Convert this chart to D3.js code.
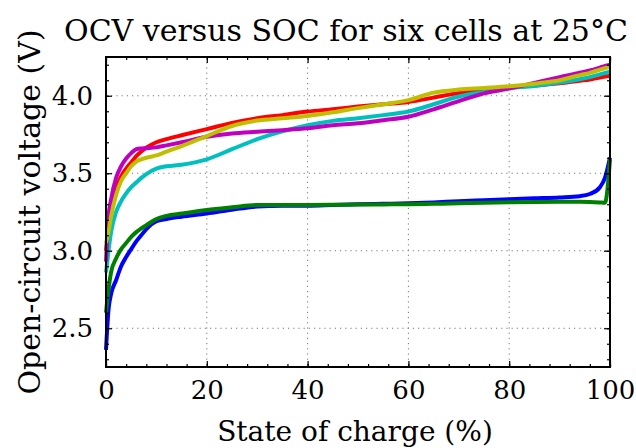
<!DOCTYPE html>
<html>
<head>
<meta charset="utf-8">
<script src="https://cdn.jsdelivr.net/npm/d3@7"></script>
<style>
  body { margin: 0; background: #fff; }
</style>
</head>
<body>
<div id="chart"></div>
<script>
// state of charge (%) at which each cell was read
const soc = [0, 0.5, 1, 2, 3, 4, 5, 6, 7, 8, 10, 12, 15, 20, 25, 30, 35, 40, 45, 50,
  55, 60, 65, 70, 75, 80, 85, 90, 94, 96, 98, 99, 100];

// open-circuit voltage (V) per cell
const cellBlue = [2.36, 2.62, 2.72, 2.81, 2.90, 2.96, 3.01, 3.06, 3.10, 3.14, 3.19, 3.205, 3.22, 3.24, 3.265, 3.285, 3.29, 3.29,
  3.295, 3.30, 3.303, 3.306, 3.312, 3.32, 3.326, 3.332, 3.338, 3.344, 3.352, 3.366, 3.41, 3.47, 3.60];
const cellGreen = [2.60, 2.75, 2.86, 2.95, 3.01, 3.05, 3.09, 3.12, 3.145, 3.165, 3.205, 3.225, 3.24, 3.263, 3.28, 3.295, 3.295, 3.295,
  3.296, 3.298, 3.299, 3.30, 3.303, 3.306, 3.31, 3.313, 3.315, 3.316, 3.316, 3.315, 3.312, 3.31, 3.59];
const cellRed = [3.00, 3.15, 3.27, 3.40, 3.48, 3.53, 3.57, 3.61, 3.64, 3.665, 3.70, 3.72, 3.745, 3.785, 3.825, 3.855, 3.875, 3.898,
  3.913, 3.93, 3.945, 3.96, 3.988, 4.018, 4.036, 4.057, 4.066, 4.08, 4.097, 4.105, 4.117, 4.124, 4.128];
const cellCyan = [2.86, 3.00, 3.12, 3.25, 3.32, 3.37, 3.41, 3.44, 3.47, 3.495, 3.53, 3.545, 3.555, 3.59, 3.655, 3.72, 3.77, 3.81,
  3.838, 3.855, 3.875, 3.898, 3.945, 3.995, 4.025, 4.05, 4.063, 4.085, 4.107, 4.12, 4.138, 4.147, 4.155];
const cellMagenta = [2.93, 3.22, 3.33, 3.47, 3.545, 3.595, 3.63, 3.655, 3.66, 3.662, 3.667, 3.68, 3.70, 3.735, 3.757, 3.768, 3.778, 3.79,
  3.81, 3.822, 3.842, 3.864, 3.912, 3.965, 4.015, 4.046, 4.083, 4.12, 4.148, 4.163, 4.182, 4.192, 4.20];
const cellYellow = [3.05, 3.12, 3.22, 3.36, 3.45, 3.50, 3.545, 3.575, 3.59, 3.60, 3.615, 3.64, 3.675, 3.74, 3.805, 3.84, 3.855, 3.87,
  3.893, 3.92, 3.945, 3.972, 4.02, 4.04, 4.05, 4.061, 4.078, 4.10, 4.133, 4.148, 4.168, 4.178, 4.188];

const cells = [cellBlue, cellGreen, cellRed, cellCyan, cellMagenta, cellYellow];
const cellColors = ["#0000ff", "#008000", "#ff0000", "#00bfbf", "#bf00bf", "#bfbf00"];

const xTicks = [0, 20, 40, 60, 80, 100];
const yTicks = [2.5, 3.0, 3.5, 4.0];

const width = 636, height = 448;
const margin = { top: 57, right: 26, bottom: 81, left: 106 };
const innerW = width - margin.left - margin.right;
const innerH = height - margin.top - margin.bottom;
const serif = "DejaVu Serif";

const svg = d3.select("#chart")
  .append("svg")
  .attr("width", width)
  .attr("height", height);

const x = d3.scaleLinear().domain([0, 100]).range([0, innerW]);
const y = d3.scaleLinear().domain([2.25, 4.25]).range([innerH, 0]);

const g = svg.append("g")
  .attr("transform", `translate(${margin.left}, ${margin.top})`);

// dotted grid at the major ticks
g.append("g")
  .selectAll("line")
  .data(xTicks)
  .join("line")
  .attr("x1", d => x(d)).attr("x2", d => x(d))
  .attr("y1", 0).attr("y2", innerH)
  .attr("stroke", "#777")
  .attr("stroke-width", 1)
  .attr("stroke-dasharray", "1.2,4");

g.append("g")
  .selectAll("line")
  .data(yTicks)
  .join("line")
  .attr("x1", 0).attr("x2", innerW)
  .attr("y1", d => y(d)).attr("y2", d => y(d))
  .attr("stroke", "#777")
  .attr("stroke-width", 1)
  .attr("stroke-dasharray", "1.2,4");

// curves
const line = d3.line()
  .x((d, i) => x(soc[i]))
  .y(d => y(d))
  .curve(d3.curveMonotoneX);

g.append("g")
  .selectAll("path")
  .data(cells)
  .join("path")
  .attr("d", d => line(d))
  .attr("fill", "none")
  .attr("stroke", (d, i) => cellColors[i])
  .attr("stroke-width", 4)
  .attr("stroke-linejoin", "round");

// axes with inward ticks on all four sides
const xMinor = d3.range(0, 101, 4);
const yMinor = d3.range(2.3, 4.21, 0.1);

g.append("g").attr("transform", `translate(0, ${innerH})`)
  .call(d3.axisBottom(x).tickValues(xMinor).tickSize(-3).tickFormat(""));
g.append("g")
  .call(d3.axisTop(x).tickValues(xMinor).tickSize(-3).tickFormat(""));
g.append("g")
  .call(d3.axisLeft(y).tickValues(yMinor).tickSize(-3).tickFormat(""));
g.append("g").attr("transform", `translate(${innerW}, 0)`)
  .call(d3.axisRight(y).tickValues(yMinor).tickSize(-3).tickFormat(""));

const xAxis = g.append("g").attr("transform", `translate(0, ${innerH})`)
  .call(d3.axisBottom(x).tickValues(xTicks).tickSize(-6).tickPadding(14).tickFormat(d3.format("d")));
g.append("g")
  .call(d3.axisTop(x).tickValues(xTicks).tickSize(-6).tickFormat(""));
const yAxis = g.append("g")
  .call(d3.axisLeft(y).tickValues(yTicks).tickSize(-6).tickPadding(13).tickFormat(d3.format(".1f")));
g.append("g").attr("transform", `translate(${innerW}, 0)`)
  .call(d3.axisRight(y).tickValues(yTicks).tickSize(-6).tickFormat(""));

g.selectAll(".domain").remove();
g.selectAll(".tick line").attr("stroke", "#000").attr("stroke-width", 1.2);

xAxis.attr("font-family", serif).selectAll("text").attr("font-size", 26);
yAxis.attr("font-family", serif).selectAll("text").attr("font-size", 26);

// frame
g.append("rect")
  .attr("width", innerW)
  .attr("height", innerH)
  .attr("fill", "none")
  .attr("stroke", "#000")
  .attr("stroke-width", 2);

// titles
svg.append("text")
  .attr("x", 346)
  .attr("y", 41)
  .attr("text-anchor", "middle")
  .attr("font-family", serif)
  .attr("font-size", 30)
  .text("OCV versus SOC for six cells at 25°C");

svg.append("text")
  .attr("x", 355)
  .attr("y", 441)
  .attr("text-anchor", "middle")
  .attr("font-family", serif)
  .attr("font-size", 28)
  .text("State of charge (%)");

svg.append("text")
  .attr("transform", "translate(40, 212) rotate(-90)")
  .attr("text-anchor", "middle")
  .attr("font-family", serif)
  .attr("font-size", 30)
  .text("Open-circuit voltage (V)");
</script>
</body>
</html>
